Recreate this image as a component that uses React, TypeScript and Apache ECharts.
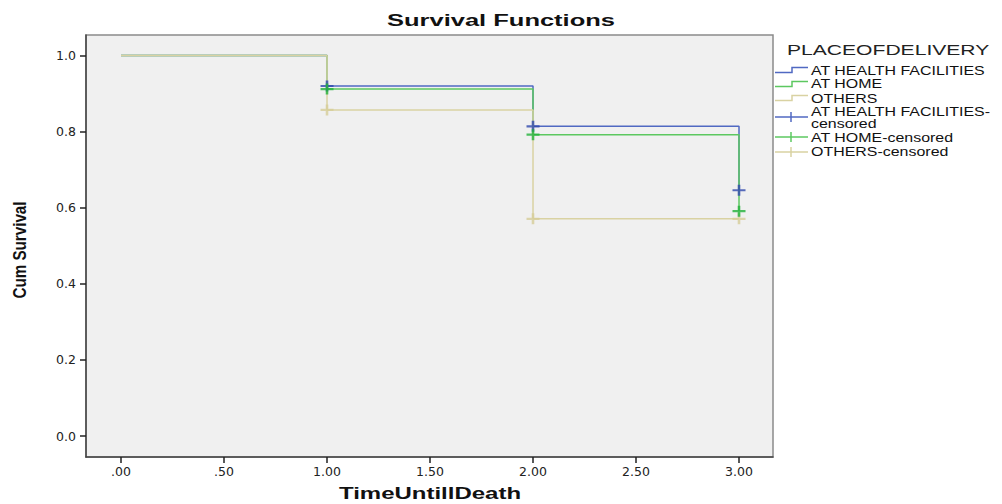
import React, { useEffect, useRef } from "react";
import * as echarts from "echarts";

const xTicks = [0, 0.5, 1, 1.5, 2, 2.5, 3];
const yTicks = [0, 0.2, 0.4, 0.6, 0.8, 1.0];

const times = [0, 1, 2, 3];
const healthFacilities = [1.0, 0.92, 0.814, 0.646];
const atHome = [1.0, 0.912, 0.792, 0.591];
const others = [1.0, 0.857, 0.571, 0.571];

const censorTimes = [1, 2, 3];
const healthCensored = [0.92, 0.814, 0.646];
const homeCensored = [0.912, 0.792, 0.591];
const othersCensored = [0.857, 0.571, 0.571];

const legendTitle = "PLACEOFDELIVERY";
const legendLines = ["AT HEALTH FACILITIES", "AT HOME", "OTHERS"];
const legendCensored = ["AT HEALTH FACILITIES-\ncensored", "AT HOME-censored", "OTHERS-censored"];

const BLUE = "#5069c2";
const BLUE_C = "#2f48ad";
const GREEN = "#5cc860";
const GREEN_C = "#22b13a";
const TAN = "#d9d2a2";
const TAN_C = "#d6cd98";

const CROSS = "path://M4,0H6V4H10V6H6V10H4V6H0V4H4Z";

export default function App() {
  const ref = useRef<HTMLDivElement>(null);
  useEffect(() => {
    if (!ref.current) return;
    const chart = echarts.init(ref.current, undefined, { renderer: "svg" });
    const pair = (xs: number[], ys: number[]) => xs.map((x, i) => [x, ys[i]]);
    const lineColors = [BLUE, GREEN, TAN];
    const lineY = [70, 84, 98];
    const crossY = [117, 137, 152];
    const textY = [70.5, 84, 98.5];
    const crossTextY = [117.5, 137.5, 152];
    const graphics: any[] = [
      {
        type: "text", x: 501, y: 20, scaleX: 1.5,
        style: { text: "Survival Functions", font: "bold 17px 'Liberation Sans', Arial", fill: "#111", align: "center", verticalAlign: "middle" },
      },
      {
        type: "text", x: 430, y: 494, scaleX: 1.5,
        style: { text: "TimeUntillDeath", font: "bold 16px 'Liberation Sans', Arial", fill: "#111", align: "center", verticalAlign: "middle" },
      },
      {
        type: "text", x: 19, y: 250, rotation: Math.PI / 2, scaleX: 0.8,
        style: { text: "Cum Survival", font: "bold 19px 'Liberation Sans', Arial", fill: "#111", align: "center", verticalAlign: "middle" },
      },
      {
        type: "text", x: 787, y: 49.5, scaleX: 1.36,
        style: { text: legendTitle, font: "15.5px 'Liberation Sans', Arial", fill: "#222", align: "left", verticalAlign: "middle" },
      },
    ];
    legendLines.forEach((name, i) => {
      const y = lineY[i];
      graphics.push({
        type: "polyline",
        shape: { points: [[775, y + 2.5], [792, y + 2.5], [792, y - 2.5], [808, y - 2.5]] },
        style: { stroke: lineColors[i], lineWidth: 1.5, fill: null },
      });
      graphics.push({
        type: "text", x: 811, y: textY[i], scaleX: 1.33,
        style: { text: name, font: "12px 'Liberation Sans', Arial", fill: "#111", align: "left", verticalAlign: "middle" },
      });
    });
    legendCensored.forEach((name, i) => {
      const y = crossY[i];
      graphics.push({
        type: "line", shape: { x1: 775, y1: y, x2: 808, y2: y },
        style: { stroke: lineColors[i], lineWidth: 1.5 },
      });
      graphics.push({
        type: "line", shape: { x1: 791, y1: y - 5, x2: 791, y2: y + 5 },
        style: { stroke: lineColors[i], lineWidth: 1.5 },
      });
      graphics.push({
        type: "text", x: 811, y: crossTextY[i], scaleX: 1.33,
        style: { text: name, font: "12px 'Liberation Sans', Arial", fill: "#111", align: "left", verticalAlign: "middle", lineHeight: 12 },
      });
    });

    const lineSeries = (name: string, ys: number[], color: string, z: number) => ({
      name, type: "line", step: "end", data: pair(times, ys), showSymbol: false, symbol: "none",
      lineStyle: { color, width: 1.5 }, z, silent: true,
    });
    const crossSeries = (name: string, ys: number[], color: string, z: number) => ({
      name, type: "scatter", data: pair(censorTimes, ys), symbol: CROSS, symbolSize: [13, 11],
      itemStyle: { color }, z, silent: true,
    });

    chart.setOption({
      animation: false,
      backgroundColor: "#ffffff",
      textStyle: { fontFamily: "'DejaVu Sans', sans-serif" },
      grid: {
        left: 86, top: 35, right: 229, bottom: 47,
        show: true, backgroundColor: "#f0f0f0", borderColor: "#8a8a8a", borderWidth: 1.5,
      },
      graphic: graphics,
      xAxis: {
        type: "value", min: -0.17, max: 3.165,
        axisLine: { show: true, onZero: false, lineStyle: { color: "#444", width: 1.5 } },
        axisTick: { show: true, customValues: xTicks, length: 6, lineStyle: { color: "#222", width: 1.5 } },
        axisLabel: {
          customValues: xTicks, color: "#222", fontSize: 12.5, margin: 8,
          formatter: (v: number) => (v === 0 ? ".00" : v < 1 ? "." + (v * 100).toFixed(0) : v.toFixed(2)),
        },
        splitLine: { show: false },
      },
      yAxis: {
        type: "value", min: -0.055, max: 1.054,
        axisLine: { show: true, onZero: false, lineStyle: { color: "#444", width: 1.5 } },
        axisTick: { show: true, customValues: yTicks, length: 6, lineStyle: { color: "#222", width: 1.5 } },
        axisLabel: {
          customValues: yTicks, color: "#222", fontSize: 12.5, margin: 10,
          formatter: (v: number) => v.toFixed(1),
        },
        splitLine: { show: false },
      },
      series: [
        lineSeries("AT HEALTH FACILITIES", healthFacilities, BLUE, 2),
        lineSeries("AT HOME", atHome, GREEN, 3),
        lineSeries("OTHERS", others, TAN, 4),
        crossSeries("OTHERS-censored", othersCensored, TAN_C, 5),
        crossSeries("AT HEALTH FACILITIES-censored", healthCensored, BLUE_C, 6),
        crossSeries("AT HOME-censored", homeCensored, GREEN_C, 7),
      ],
    });
    return () => chart.dispose();
  }, []);
  return <div ref={ref} style={{ width: 1002, height: 504, position: "absolute", left: 0, top: 0 }} />;
}
